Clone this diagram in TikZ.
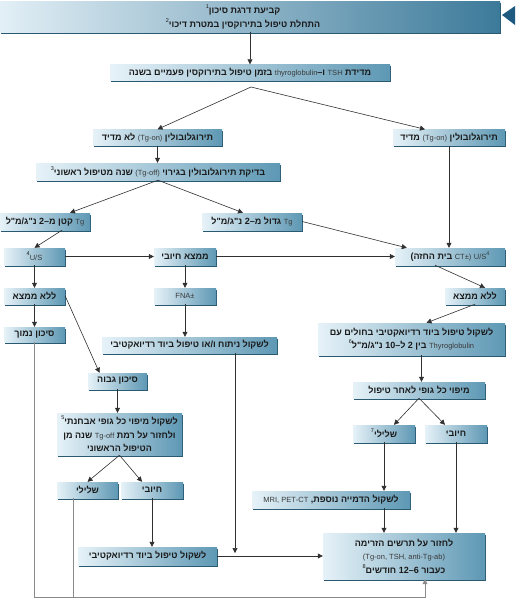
\documentclass[tikz,border=0pt]{standalone}
\usepackage{fontspec}
\setmainfont{Liberation Sans}
\newfontfamily\hebfont[Script=Hebrew]{Liberation Sans}
\usepackage{tikz}
\usetikzlibrary{arrows.meta, shadows}
\TeXXeTstate=1
\definecolor{boxlight}{HTML}{E6F2F8}
\definecolor{boxdark}{HTML}{5E98B4}
\definecolor{headlight}{HTML}{E2EFF6}
\definecolor{headdark}{HTML}{3C7A9A}
\definecolor{boxedge}{HTML}{2A5A72}
\definecolor{boxtext}{HTML}{1A1A1A}
\definecolor{lattext}{HTML}{3A3A3A}
\definecolor{linedark}{HTML}{303030}
\definecolor{linegray}{HTML}{8A8A8A}
\definecolor{tridark}{HTML}{1E5A80}
\newcommand{\heb}[1]{\hbox{\beginR#1\endR}}
\newcommand{\hw}[1]{\hbox{#1}}
\newcommand{\lat}[1]{\beginL{\mdseries\color{lattext}\fontsize{7.5}{8}\selectfont#1}\endL}
\newcommand{\lnum}[1]{\beginL#1\endL}
\newcommand{\fnote}[1]{\raisebox{0.55em}{\mdseries\fontsize{5.5}{6}\selectfont#1}}
\tikzset{
  flowbox/.style={rectangle, left color=boxlight, right color=boxdark, text=boxtext,
                  font=\hebfont\bfseries\fontsize{9}{13.5}\selectfont, align=center, inner sep=1pt,
                  drop shadow={shadow xshift=0.8pt, shadow yshift=-1.8pt, fill=boxedge, opacity=1}},
  headbox/.style={rectangle, left color=headlight, right color=headdark,
                  drop shadow={shadow xshift=0.8pt, shadow yshift=-1.8pt, fill=boxedge, opacity=1}},
  headtext/.style={text=boxtext, font=\hebfont\bfseries\fontsize{9}{13.5}\selectfont, inner sep=0pt},
  flow/.style={-{Triangle[length=5pt, width=5pt]}, draw=linedark, semithick},
  backflow/.style={draw=linegray, semithick},
  backarrow/.style={-{Triangle[length=5pt, width=5pt]}, draw=linegray, semithick}
}

\begin{document}
\begin{tikzpicture}[x=1pt, y=-1pt]
  \useasboundingbox (0,0) rectangle (515,600);

  \node[headbox, minimum width=500pt, minimum height=31pt] (risk) at (250,16.5) {};
  \node[headtext] (risktop) at (243,10)
    {\heb{\hw{קביעת} \hw{דרגת} \hw{סיכון}\fnote{1}}};
  \node[headtext] (riskbot) at (243,24)
    {\heb{\hw{התחלת} \hw{טיפול} \hw{בתירוקסין} \hw{במטרת} \hw{דיכוי}\fnote{2}}};
  \fill[tridark] (502,15) -- (515,6) -- (515,25) -- cycle;

  \node[flowbox, minimum width=280pt, minimum height=16pt] (measure) at (250,72.5)
    {\heb{מדידת \lat{TSH} ו\mbox{–}\lat{thyroglobulin} בזמן טיפול בתירוקסין פעמיים בשנה}};
  \node[flowbox, minimum width=129pt, minimum height=16pt] (tgnot) at (157.5,137.5)
    {\heb{תירוגלובולין \lat{(Tg-on)} לא מדיד}};
  \node[flowbox, minimum width=112pt, minimum height=16pt] (tgyes) at (449,137.5)
    {\heb{תירוגלובולין \lat{(Tg-on)} מדיד}};
  \node[flowbox, minimum width=244pt, minimum height=17pt] (stim) at (158,171.5)
    {\heb{בדיקת תירוגלובולין בגירוי \lat{(Tg-off)} שנה מטיפול ראשוני\fnote{3}}};
  \node[flowbox, minimum width=90pt, minimum height=17pt] (tglow) at (45,221.5)
    {\heb{\lat{Tg} קטן מ\mbox{–}2 נ"ג/מ"ל}};
  \node[flowbox, minimum width=100pt, minimum height=17pt] (tghigh) at (252,221.5)
    {\heb{\lat{Tg} גדול מ\mbox{–}2 נ"ג/מ"ל}};

  \node[flowbox, minimum width=110pt, minimum height=17pt] (uschest) at (450,256.5)
    {\heb{\lat{U/S\fnote{4}} \lat{CT±)} בית החזה)}};
  \node[flowbox, minimum width=61pt, minimum height=17pt] (usneck) at (34.5,256.5)
    {\fnote{4}\lat{U/S}};
  \node[flowbox, minimum width=62pt, minimum height=17pt] (posfind) at (185,256.5)
    {\heb{ממצא חיובי}};

  \node[flowbox, minimum width=61pt, minimum height=16pt] (nofindl) at (34.5,296)
    {\heb{ללא ממצא}};
  \node[flowbox, minimum width=62pt, minimum height=16pt] (fna) at (185,296)
    {\lat{FNA±}};
  \node[flowbox, minimum width=60pt, minimum height=16pt] (nofindr) at (475,296)
    {\heb{ללא ממצא}};

  \node[flowbox, minimum width=61pt, minimum height=15pt] (lowrisk) at (34.5,334.5)
    {\heb{סיכון נמוך}};
  \node[flowbox, minimum width=175pt, minimum height=16pt] (surgery) at (189.5,345)
    {\heb{לשקול ניתוח ו/או טיפול ביוד רדיואקטיבי}};
  \node[flowbox, minimum width=187pt, minimum height=32pt] (rairange) at (411.5,339)
    {\heb{לשקול טיפול ביוד רדיואקטיבי בחולים עם}\\
     \heb{\lat{Thyroglobulin} בין 2 ל\mbox{–}\lnum{10} נ"ג/מ"ל\fnote{6}}};

  \node[flowbox, minimum width=59pt, minimum height=16pt] (highrisk) at (117.5,381)
    {\heb{סיכון גבוה}};
  \node[flowbox, minimum width=132pt, minimum height=16pt] (postscan) at (419,390)
    {\heb{מיפוי כל גופי לאחר טיפול}};
  \node[flowbox, minimum width=62pt, minimum height=17pt] (postneg) at (384,433.5)
    {\heb{שלילי\fnote{7}}};
  \node[flowbox, minimum width=62pt, minimum height=17pt] (postpos) at (456,433.5)
    {\heb{חיובי}};
  \node[flowbox, minimum width=125pt, minimum height=42pt] (diagscan) at (119.5,434)
    {\heb{לשקול מיפוי כל גופי אבחנתי\fnote{5}}\\
     \heb{ולחזור על רמת \lat{Tg-off} שנה מן}\\ \heb{הטיפול הראשוני}};
  \node[flowbox, minimum width=61pt, minimum height=16pt] (diagneg) at (87.5,490)
    {\heb{שלילי}};
  \node[flowbox, minimum width=62pt, minimum height=16pt] (diagpos) at (152,490)
    {\heb{חיובי}};

  \node[flowbox, minimum width=158pt, minimum height=17pt] (imaging) at (331,499.5)
    {\heb{לשקול הדמייה נוספת, \lat{MRI, PET-CT}}};
  \node[flowbox, minimum width=139pt, minimum height=18pt] (raitreat) at (147.5,556)
    {\heb{לשקול טיפול ביוד רדיואקטיבי}};
  \node[flowbox, minimum width=162pt, minimum height=46pt] (repeat) at (404,556)
    {\heb{לחזור על תרשים הזרימה}\\ \hbox{\lat{(Tg-on, TSH, anti-Tg-ab)}}\\
     \heb{כעבור \lnum{6}\mbox{–}\lnum{12} חודשים\fnote{8}}};

  \coordinate (fork) at (251,87);
  \coordinate (join) at (235,553);
  \coordinate (bottom) at (0,597);

  \draw[flow] (risk.south) -- (measure.north);
  \draw[flow] (fork) -- (tgnot.north);
  \draw[flow] (fork) -- ([xshift=-24pt]tgyes.north);
  \draw[flow] (tgnot.south) -- (tgnot.south |- stim.north);
  \draw[flow] (stim.south) -- ([xshift=25pt]tglow.north);
  \draw[flow] (stim.south) -- ([xshift=-9pt]tghigh.north);
  \draw[flow] (tghigh.east) -- ([xshift=12pt]uschest.north west);
  \draw[flow] (tgyes.south) -- (tgyes.south |- uschest.north);
  \draw[flow] ([xshift=17pt]tglow.south) -- (usneck.north);
  \draw[flow] (usneck.east) -- (posfind.west);
  \draw[flow] (posfind.east) -- (uschest.west);
  \draw[flow] (usneck.south) -- (nofindl.north);
  \draw[flow] (posfind.south) -- (fna.north);
  \draw[flow] ([xshift=-15pt]uschest.south) -- ([xshift=10pt]nofindr.north);
  \draw[flow] (nofindl.south) -- (lowrisk.north);
  \draw[flow] (nofindl.east) -- ([xshift=-18pt]highrisk.north);
  \draw[flow] (fna.south) -- (fna.south |- surgery.north);
  \draw[flow] (nofindr.south) -- ([xshift=15pt]rairange.north);
  \draw[flow] ([xshift=10pt]rairange.south) -- ([xshift=10pt]rairange.south |- postscan.north);
  \draw[flow] (postscan.south) -- ([xshift=10pt]postneg.north);
  \draw[flow] (postscan.south) -- ([xshift=-11pt]postpos.north);
  \draw[flow] (highrisk.south) -- (highrisk.south |- diagscan.north);
  \draw[flow] (diagscan.south) -- (diagneg.north);
  \draw[flow] (diagscan.south) -- ([xshift=-10pt]diagpos.north);
  \draw[flow] (diagpos.south) -- (diagpos.south |- raitreat.north);
  \draw[flow] (postneg.south) -- (postneg.south |- imaging.north);
  \draw[flow] (postneg.south |- imaging.south) -- (postneg.south |- repeat.north);
  \draw[flow] (postpos.south) -- (postpos.south |- repeat.north);
  \draw[flow] ([xshift=45.5pt]surgery.south) -- (join);
  \draw[flow] (raitreat.east) -- (repeat.west);

  % back to the follow-up box
  \draw[backflow] ([xshift=-14pt]diagneg.south) -- ([xshift=-14pt]diagneg.south |- bottom);
  \draw[backarrow] (lowrisk.south) |- ([xshift=21pt]repeat.south |- bottom) -- ([xshift=21pt]repeat.south);
\end{tikzpicture}
\end{document}
